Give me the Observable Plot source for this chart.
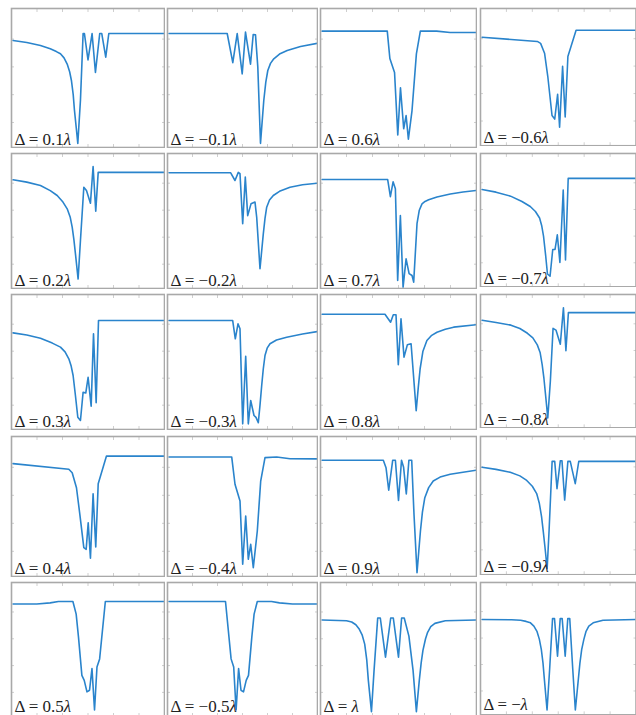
<!DOCTYPE html>
<html>
<head>
<meta charset="utf-8">
<script src="https://cdn.jsdelivr.net/npm/d3@7"></script>
<script src="https://cdn.jsdelivr.net/npm/@observablehq/plot@0.6"></script>
<style>
  html, body { margin: 0; padding: 0; background: #fff; }
  #wrap { position: relative; width: 636px; height: 715px; overflow: hidden; }
  .panel { position: absolute; }
</style>
</head>
<body>
<div id="wrap"></div>
<script>
// ---- data (x: detuning units 0..150, y: transmission) ----
const labels = ["0.1", "\u22120.1", "0.6", "\u22120.6",
                "0.2", "\u22120.2", "0.7", "\u22120.7",
                "0.3", "\u22120.3", "0.8", "\u22120.8",
                "0.4", "\u22120.4", "0.9", "\u22120.9",
                "0.5", "\u22120.5", "", "\u2212"];

const xP01 = [1.5, 15, 28.4, 38, 44, 48, 51.5, 54.6, 57, 58.8, 60.5, 61.7, 63.5, 65, 67.6, 70.2, 71.5, 75, 79, 82.3, 86.5, 88.5, 92.4, 95.4, 150];
const yP01 = [0.79, 0.775, 0.754, 0.73, 0.71, 0.694, 0.665, 0.62, 0.565, 0.50, 0.40, 0.29, 0.16, 0.05, 0.36, 0.84, 0.84, 0.65, 0.84, 0.56, 0.84, 0.84, 0.67, 0.84, 0.84];

const xM01 = [1.5, 59.7, 65.3, 69.7, 74.7, 78, 83, 85.7, 88, 90.3, 93, 96.3, 98.3, 100.3, 103, 106.3, 112, 119.7, 133, 150];
const yM01 = [0.84, 0.84, 0.63, 0.84, 0.55, 0.85, 0.62, 0.833, 0.83, 0.60, 0.05, 0.36, 0.49, 0.574, 0.625, 0.658, 0.692, 0.718, 0.747, 0.77];

const xP06 = [1.5, 64.2, 66.7, 71.2, 74.3, 76.9, 80, 82.3, 84.5, 88, 92.2, 96, 111.7, 124.6, 150];
const yP06 = [0.857, 0.857, 0.66, 0.56, 0.11, 0.45, 0.155, 0.25, 0.08, 0.286, 0.694, 0.857, 0.857, 0.847, 0.847];

const xM06 = [1.5, 54.8, 58, 61.8, 64.9, 69, 71.6, 74.4, 76.3, 79.2, 81.7, 84.3, 92.2, 150];
const yM06 = [0.81, 0.78, 0.766, 0.694, 0.526, 0.24, 0.214, 0.394, 0.155, 0.598, 0.23, 0.67, 0.862, 0.862];

const xP02 = [1.5, 15, 28.4, 38, 44.8, 50, 54.6, 57.5, 59.5, 61.2, 62.7, 65.3, 67.6, 70.9, 73.5, 77.4, 80, 82.6, 85, 150];
const yP02 = [0.825, 0.808, 0.783, 0.745, 0.709, 0.665, 0.61, 0.55, 0.474, 0.38, 0.277, 0.09, 0.376, 0.77, 0.746, 0.652, 0.924, 0.593, 0.88, 0.88];

const xM02 = [1.5, 63.2, 67.5, 70.8, 72.5, 75.2, 77.8, 80.2, 83.5, 87.5, 89.2, 92.5, 95.8, 97.5, 99.2, 102, 105.8, 112, 122.5, 135, 150];
const yM02 = [0.877, 0.877, 0.82, 0.88, 0.87, 0.50, 0.845, 0.56, 0.647, 0.66, 0.548, 0.166, 0.425, 0.54, 0.622, 0.675, 0.709, 0.74, 0.77, 0.788, 0.80];

const xP07 = [1.5, 64.6, 67.2, 69.8, 72, 74.2, 76.8, 79.4, 82.3, 85.2, 88, 89.6, 92.8, 95, 97.6, 100.5, 104, 112, 124.8, 137, 150];
const yP07 = [0.827, 0.827, 0.70, 0.81, 0.759, 0.08, 0.56, 0.03, 0.24, 0.13, 0.116, 0.067, 0.50, 0.60, 0.647, 0.665, 0.677, 0.698, 0.72, 0.735, 0.746];

const xM07 = [1.5, 15, 29, 40, 48, 53, 57, 59, 60.8, 62.8, 64.6, 67.1, 69.7, 71.9, 74.1, 76.6, 79.8, 82, 84.6, 89.3, 150];
const yM07 = [0.75, 0.73, 0.70, 0.66, 0.622, 0.585, 0.536, 0.48, 0.40, 0.26, 0.116, 0.099, 0.30, 0.30, 0.41, 0.203, 0.746, 0.222, 0.833, 0.833, 0.833];

const xP03 = [1.5, 15, 28.4, 40, 48, 52.5, 56.2, 58.5, 60.4, 62.7, 65, 67.6, 70.2, 72.8, 75.1, 78.1, 80.4, 83, 85.3, 150];
const yP03 = [0.736, 0.72, 0.696, 0.66, 0.63, 0.595, 0.544, 0.49, 0.42, 0.27, 0.111, 0.087, 0.296, 0.29, 0.407, 0.193, 0.729, 0.218, 0.827, 0.827];

const xM03 = [1.5, 65.2, 67.8, 70.5, 72.5, 75.2, 78.2, 80.8, 83.2, 86.5, 88.5, 90.8, 92.5, 94.2, 95.8, 97.5, 99.8, 102.5, 109, 119.2, 135, 150];
const yM03 = [0.827, 0.827, 0.692, 0.803, 0.766, 0.062, 0.563, 0.062, 0.235, 0.124, 0.11, 0.07, 0.20, 0.346, 0.47, 0.568, 0.625, 0.655, 0.683, 0.704, 0.727, 0.746];

const xP08 = [1.5, 62, 67.4, 70, 72.6, 74.8, 77.4, 80.3, 83.5, 87.1, 92, 94, 95.8, 98.5, 102.3, 106.5, 112, 120, 128, 150];
const yP08 = [0.874, 0.874, 0.815, 0.87, 0.87, 0.50, 0.84, 0.556, 0.647, 0.655, 0.16, 0.33, 0.47, 0.60, 0.679, 0.715, 0.74, 0.762, 0.778, 0.796];

const xM08 = [1.5, 15, 29.4, 38, 45.3, 50.5, 54.8, 57.5, 59.5, 61.2, 62.7, 64.9, 67.4, 70, 72.8, 77, 80, 82.4, 84.8, 150];
const yM08 = [0.827, 0.81, 0.79, 0.765, 0.729, 0.695, 0.642, 0.585, 0.494, 0.39, 0.272, 0.094, 0.37, 0.766, 0.753, 0.647, 0.92, 0.598, 0.884, 0.884];

const xP04 = [1.5, 56.2, 59.5, 63.7, 67, 70.9, 73.2, 75.2, 77.4, 80, 82.6, 85, 93.1, 150];
const yP04 = [0.826, 0.786, 0.761, 0.654, 0.464, 0.226, 0.214, 0.404, 0.15, 0.61, 0.231, 0.683, 0.88, 0.88];

const xM04 = [1.5, 64.2, 67.5, 72.5, 75.2, 78.2, 80.8, 83.2, 85.8, 89.8, 93.2, 97.5, 109.2, 122.5, 150];
const yM04 = [0.874, 0.874, 0.679, 0.56, 0.107, 0.452, 0.143, 0.25, 0.083, 0.345, 0.702, 0.869, 0.874, 0.861, 0.86];

const xP09 = [1.5, 60.4, 63, 65.6, 69.4, 72, 75, 77.9, 79.9, 82.5, 85, 87.7, 89.9, 92.8, 94.5, 96.1, 98, 100.3, 104, 108.4, 115, 124.7, 137, 150];
const yP09 = [0.85, 0.85, 0.797, 0.636, 0.85, 0.85, 0.564, 0.85, 0.80, 0.61, 0.85, 0.85, 0.464, 0.047, 0.20, 0.345, 0.48, 0.583, 0.655, 0.702, 0.73, 0.75, 0.765, 0.779];

const xM09 = [1.5, 15, 28.7, 38, 44.6, 50, 54.2, 56.8, 58.9, 60.6, 62.1, 64.3, 66.2, 69.1, 71.6, 73.8, 77, 78.6, 81.2, 84.3, 86.6, 91.4, 94.8, 150];
const yM09 = [0.797, 0.782, 0.761, 0.735, 0.702, 0.66, 0.607, 0.535, 0.44, 0.33, 0.226, 0.064, 0.345, 0.84, 0.84, 0.643, 0.845, 0.845, 0.56, 0.84, 0.84, 0.679, 0.84, 0.84];

const xP05 = [1.5, 24.8, 37.9, 46, 60.2, 63.4, 65.7, 69, 71.3, 74, 76.5, 78.9, 81.4, 83.8, 86.4, 92, 150];
const yP05 = [0.859, 0.859, 0.868, 0.878, 0.878, 0.784, 0.611, 0.327, 0.29, 0.204, 0.216, 0.377, 0.068, 0.389, 0.45, 0.878, 0.878];

const xM05 = [1.5, 58, 63.6, 66.2, 68.6, 71.1, 73.5, 76, 78.7, 81, 84.3, 86.6, 89.8, 104, 112, 125, 150];
const yM05 = [0.878, 0.878, 0.45, 0.389, 0.068, 0.377, 0.216, 0.204, 0.29, 0.327, 0.611, 0.784, 0.878, 0.878, 0.868, 0.859, 0.859];

const xP10 = [1.5, 25, 30, 34, 37, 40, 42.5, 44.5, 46, 49, 51.5, 55, 57.5, 62.5, 67.5, 70, 75, 78, 80.5, 85, 89, 92.2, 95, 96.8, 98.5, 101, 103, 106, 110, 120, 150];
const yP10 = [0.74, 0.735, 0.725, 0.705, 0.675, 0.63, 0.56, 0.44, 0.29, 0.056, 0.364, 0.755, 0.755, 0.463, 0.755, 0.755, 0.463, 0.755, 0.755, 0.62, 0.364, 0.056, 0.29, 0.42, 0.513, 0.6, 0.648, 0.69, 0.715, 0.735, 0.74];

const xM10 = [1.5, 30, 38.7, 44, 48.2, 51.5, 54.6, 56.8, 58.7, 60.3, 61.6, 64.2, 66.7, 69.5, 71.4, 74.3, 76.9, 78.8, 81.7, 84.2, 86.1, 89, 91.5, 94.4, 95.9, 97.6, 99.7, 101.7, 104.5, 108.7, 118.2, 150];
const yM10 = [0.74, 0.738, 0.735, 0.726, 0.715, 0.69, 0.648, 0.59, 0.513, 0.41, 0.29, 0.056, 0.364, 0.747, 0.747, 0.463, 0.747, 0.747, 0.463, 0.747, 0.747, 0.364, 0.056, 0.29, 0.41, 0.513, 0.59, 0.648, 0.69, 0.715, 0.735, 0.74];

const xSeries = [xP01, xM01, xP06, xM06, xP02, xM02, xP07, xM07, xP03, xM03, xP08, xM08, xP04, xM04, xP09, xM09, xP05, xM05, xP10, xM10];
const ySeries = [yP01, yM01, yP06, yM06, yP02, yM02, yP07, yM07, yP03, yM03, yP08, yM08, yP04, yM04, yP09, yM09, yP05, yM05, yP10, yM10];

const xTicks = [25, 50, 75, 100, 125];
const yTicks = [0.2, 0.4, 0.6, 0.8];

// ---- layout (panel placement in page px) ----
const colLeft = [11, 167, 320, 479.5];
const colWidth = [153, 150, 156, 157.5];
const rowTop = [8, 153, 294, 435.5, 581.5];
const rowHeight = [139, 135, 135, 140, 134];
const labelLift = [3, 3, 3, 3, 5];

const lineColor = "#2a84cc";
const frameColor = "#a9a9a9";
const tickColor = "#cfcfcf";

const wrap = document.getElementById("wrap");

labels.forEach((lab, i) => {
  const r = Math.floor(i / 4), c = i % 4;
  const W = colWidth[c], H = rowHeight[r];
  const data = xSeries[i].map((x, k) => ({x, y: ySeries[i][k]}));
  const labelText = "\u0394 = " + lab + "\u03bb";
  const blank = () => "";
  const plot = Plot.plot({
    width: W + 2,
    height: H + 2,
    marginTop: 1, marginBottom: 1, marginLeft: 1, marginRight: 1,
    x: {domain: [0, 150], axis: null, label: null},
    y: {domain: [0.02, 1.02], axis: null, label: null},
    style: {background: "transparent"},
    marks: [
      Plot.axisX({anchor: "top", ticks: xTicks, tickSize: 3, dy: 3, tickFormat: blank, stroke: tickColor, label: null}),
      Plot.axisX({anchor: "bottom", ticks: xTicks, tickSize: 3, dy: -3, tickFormat: blank, stroke: tickColor, label: null}),
      Plot.axisY({anchor: "left", ticks: yTicks, tickSize: 3, dx: 3, tickFormat: blank, stroke: tickColor, label: null}),
      Plot.axisY({anchor: "right", ticks: yTicks, tickSize: 3, dx: -3, tickFormat: blank, stroke: tickColor, label: null}),
      Plot.line(data, {x: "x", y: "y", stroke: lineColor, strokeWidth: 1.6, clip: true}),
      Plot.frame({stroke: frameColor, strokeWidth: 1.6}),
      Plot.text([labelText], {
        frameAnchor: "bottom-left", text: d => d, dx: 3, dy: -labelLift[r],
        textAnchor: "start", lineAnchor: "bottom",
        fontFamily: "'Liberation Serif', 'Times New Roman', serif",
        fontSize: 17, fill: "#222"
      })
    ]
  });
  // italicise the lambda in the label
  plot.querySelectorAll("text").forEach(t => {
    const s = t.textContent;
    if (s.indexOf("\u0394") === 0) {
      t.textContent = "";
      t.appendChild(document.createTextNode(s.slice(0, -1)));
      const ts = document.createElementNS("http://www.w3.org/2000/svg", "tspan");
      ts.setAttribute("font-style", "italic");
      ts.textContent = "\u03bb";
      t.appendChild(ts);
    }
  });
  const div = document.createElement("div");
  div.className = "panel";
  div.style.left = (colLeft[c] - 1) + "px";
  div.style.top = (rowTop[r] - 1) + "px";
  div.appendChild(plot);
  wrap.appendChild(div);
});
</script>
</body>
</html>
